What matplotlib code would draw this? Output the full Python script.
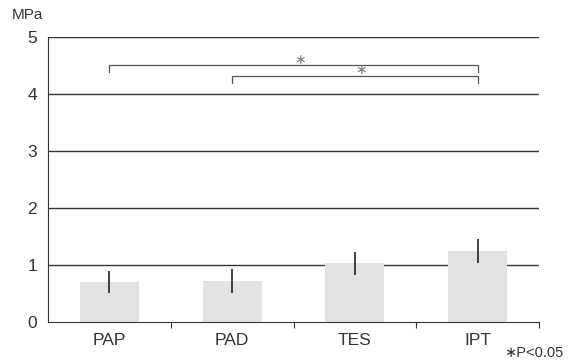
import matplotlib
matplotlib.use("Agg")
import matplotlib.pyplot as plt

plt.rcParams['font.family'] = ['Liberation Sans', 'DejaVu Sans']

categories = ["PAP", "PAD", "TES", "IPT"]
means = [0.70, 0.72, 1.03, 1.25]
errors = [0.20, 0.21, 0.20, 0.21]
yticks = [0, 1, 2, 3, 4, 5]
# significance brackets: (from index, to index, height)
brackets = [(0, 3, 4.50), (1, 3, 4.32)]

fig = plt.figure(figsize=(5.73, 3.64), dpi=100)
ax = fig.add_axes([0.0838, 0.1154, 0.8569, 0.7830])

x = list(range(len(categories)))
for yv in yticks[1:]:
    ax.axhline(yv, color="#333333", lw=1.0, zorder=1)
ax.bar(x, means, width=0.48, color="#e2e2e2", zorder=2)
ax.errorbar(x, means, yerr=errors, fmt="none", ecolor="#222222",
            elinewidth=1.2, capsize=0, zorder=3)

for i0, i1, h in brackets:
    ax.plot([i0, i0, i1, i1], [h - 0.12, h, h, h - 0.12],
            color="#555555", lw=0.9, zorder=3, clip_on=False)
    ax.text((i0 + i1) / 2 + 0.05, h - 0.02, "∗", ha="center", va="bottom",
            fontsize=10, color="#777777")

ax.set_xlim(-0.5, 3.5)
ax.set_ylim(0, 5)
ax.set_yticks(yticks)
ax.set_yticklabels([str(v) for v in yticks], fontsize=12.5, color="#333333")
ax.set_xticks([0.5, 1.5, 2.5, 3.5])
ax.set_xticklabels([])
ax.set_xticks(x, minor=True)
ax.set_xticklabels(categories, minor=True, fontsize=12.5, color="#333333")
ax.tick_params(axis="x", which="minor", length=0, pad=8)
ax.tick_params(axis="x", which="major", length=4, direction="out", color="#333333")
ax.tick_params(axis="y", length=0, pad=8)

for s in ["top", "right"]:
    ax.spines[s].set_visible(False)
ax.spines["left"].set_color("#333333")
ax.spines["bottom"].set_color("#333333")

fig.text(12 / 573, 1 - 15 / 364, "MPa", fontsize=11, color="#333333",
         ha="left", va="center")
fig.text(563 / 573, 1 - 353 / 364, "∗P<0.05", fontsize=10.5, color="#333333",
         ha="right", va="center")

fig.savefig("out.png", dpi=100)
